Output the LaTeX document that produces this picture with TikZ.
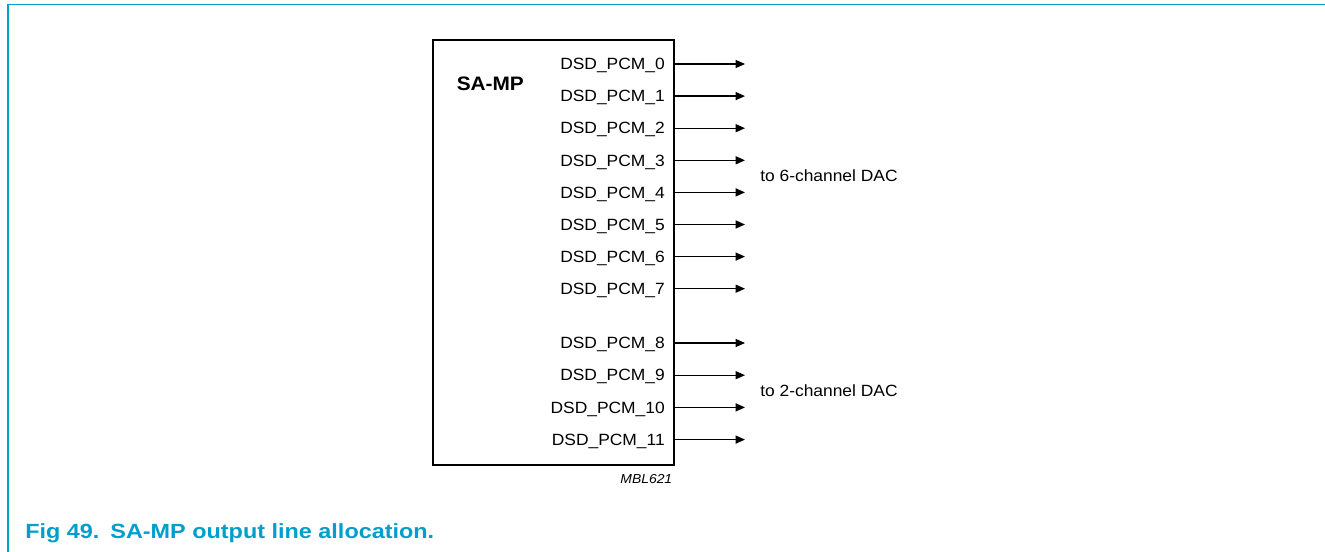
\documentclass[tikz,border=0pt]{standalone}
\usepackage{fontspec}
\setmainfont{Liberation Sans}
\newfontfamily\diagfont{Liberation Sans}[FakeStretch=1.07]
\newfontfamily\capfont{Liberation Sans}[FakeStretch=1.14]
\usetikzlibrary{arrows.meta}
\definecolor{nxpblue}{RGB}{0,158,204}
\begin{document}
\begin{tikzpicture}[x=0.75pt,y=-0.75pt,
  lbl/.style={anchor=base east,inner sep=0pt,font=\diagfont\fontsize{12.2}{14}\selectfont},
  note/.style={anchor=base west,inner sep=0pt,font=\diagfont\fontsize{12.2}{14}\selectfont},
  outline/.style={-{Triangle[length=7pt,width=6pt]},line width=0.9pt},
  chipbox/.style={draw,line width=1.5pt,inner sep=0pt,anchor=north west,minimum width=180.4pt,minimum height=318.4pt},
  frameline/.style={draw=nxpblue,line width=1pt}]
\useasboundingbox (0,0) rectangle (1325,552);
% frame
\coordinate (fbl) at (8,552);
\coordinate (ftl) at (8,4.7);
\coordinate (ftr) at (1325,4.7);
\draw[frameline] (fbl) -- (ftl) -- (ftr);
% chip
\node[chipbox] (chip) at (432,39) {};
\node[anchor=base west,inner sep=0pt,font=\diagfont\bfseries\fontsize{14.6}{16}\selectfont] (title) at (456.5,90.3) {SA-MP};
% outputs
\foreach \i/\y in {0/64,1/96.1,2/128.2,3/160.3,4/192.4,5/224.5,6/256.6,7/288.7,8/343,9/375.2,10/407.4,11/439.6}{
  \node[lbl] (l\i) at (665,\y+5.8) {DSD\_PCM\_\i};
  \coordinate (t\i) at (745,\y);
  \draw[outline] (chip.east |- t\i) -- (t\i);
}
\node[note] (dac6) at (760,181.5) {to 6-channel DAC};
\node[note] (dac2) at (760,397) {to 2-channel DAC};
\node[anchor=base east,inner sep=0pt,font=\diagfont\itshape\fontsize{9.75}{11}\selectfont] (code) at (672.5,483.3) {MBL621};
% caption
\node[anchor=base west,inner sep=0pt,text=nxpblue,font=\capfont\bfseries\fontsize{15.4}{17}\selectfont] (cap) at (25,538.7) {Fig 49.\hspace{8.25pt}SA-MP output line allocation.};
\end{tikzpicture}
\end{document}
